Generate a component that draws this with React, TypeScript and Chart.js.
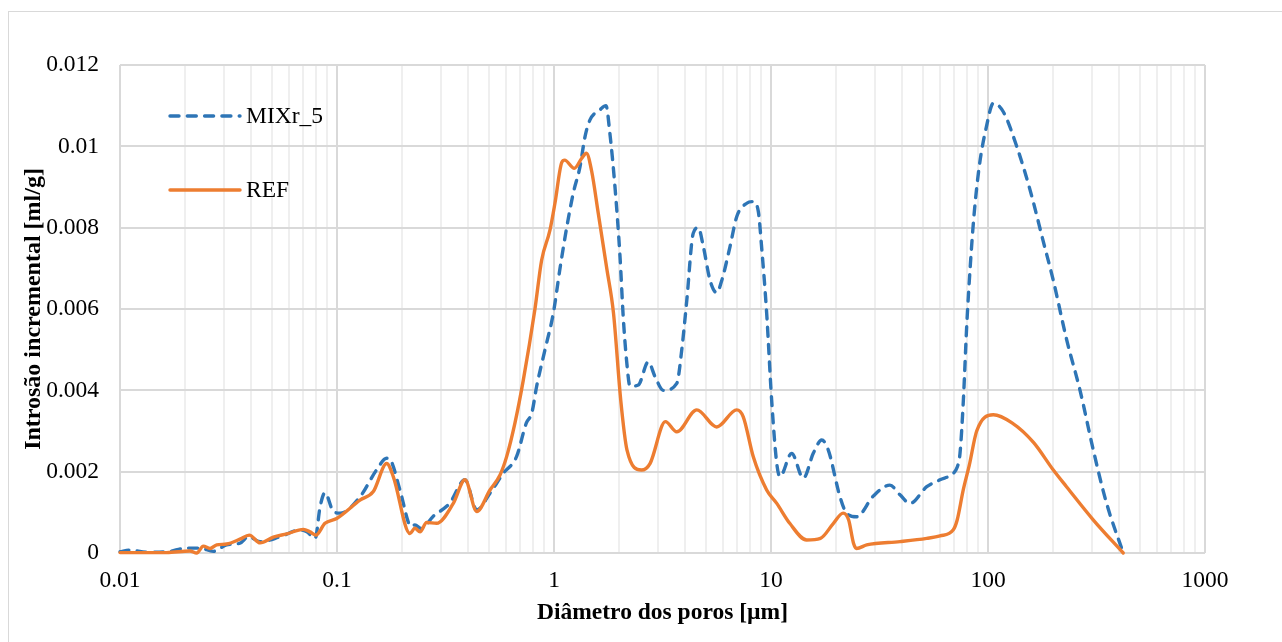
import React, { useEffect, useRef } from "react";
import { Chart, registerables } from "chart.js";

Chart.register(...registerables);

// MIXr_5 – incremental intrusion vs pore diameter
const mixDiameter = [
  0.01, 0.0111, 0.0133, 0.0164, 0.0203, 0.0234, 0.0269, 0.031, 0.0357, 0.039,
  0.0442, 0.0547, 0.0676, 0.0726, 0.0793, 0.0836, 0.088, 0.0963, 0.1034, 0.1276,
  0.152, 0.1694, 0.178, 0.195, 0.22, 0.2286, 0.2447, 0.2772, 0.3302, 0.389,
  0.4405, 0.507, 0.584, 0.672, 0.746, 0.79, 0.832, 0.909, 0.993, 1.066,
  1.144, 1.227, 1.318, 1.39, 1.465, 1.629, 1.736, 1.811, 1.91, 2.014,
  2.085, 2.163, 2.24, 2.446, 2.72, 2.92, 3.19, 3.68, 3.88, 4.09,
  4.38, 4.62, 4.88, 5.24, 5.62, 5.93, 6.47, 6.95, 7.73, 8.28,
  8.74, 9.06, 9.55, 10.07, 10.63, 11.0, 12.45, 14.09, 15.66, 17.13,
  18.37, 20.8, 22.3, 24.8, 29.6, 35.3, 39.3, 43.7, 52.2, 60.1,
  69.2, 72, 74.3, 76.9, 79.9, 83, 86.1, 91.1, 98.3, 105.8,
  117.6, 135.6, 156.2, 180, 200, 230.5, 265.5, 305.7, 352, 420,
];
const mixVolume = [
  0.00003, 0.00007, 0.00002, 0.00003, 0.00012, 0.00012, 0.00004, 0.0002, 0.00024, 0.0004,
  0.00028, 0.0004, 0.00057, 0.00052, 0.00036, 0.00114, 0.00148, 0.00102, 0.00098, 0.00138,
  0.00204, 0.00233, 0.00225, 0.00155, 0.00065, 0.00069, 0.0006, 0.0009, 0.00122, 0.0018,
  0.00106, 0.00147, 0.00196, 0.00237, 0.0032, 0.00344, 0.0041, 0.005, 0.0059, 0.007,
  0.008, 0.00885, 0.0095, 0.01024, 0.01065, 0.0109, 0.011, 0.0103, 0.009, 0.0073,
  0.0058, 0.0047, 0.0041, 0.00413, 0.0047, 0.00434, 0.004, 0.00417, 0.005, 0.0062,
  0.00786, 0.008, 0.00753, 0.0067, 0.0064, 0.0067, 0.00753, 0.00827, 0.0086, 0.00864,
  0.0084, 0.0075, 0.0059, 0.00376, 0.0022, 0.00188, 0.00245, 0.00184, 0.00245, 0.00278,
  0.00253, 0.00138, 0.00098, 0.00089, 0.0014, 0.00167, 0.00143, 0.00122, 0.00163, 0.0018,
  0.00196, 0.0021, 0.00245, 0.0037, 0.00565, 0.00712, 0.00827, 0.0095, 0.01048, 0.01106,
  0.01085, 0.01, 0.00893, 0.00765, 0.0067, 0.00524, 0.004, 0.00253, 0.00122, 0,
];

// REF – incremental intrusion vs pore diameter
const refDiameter = [
  0.01, 0.0164, 0.021, 0.02257, 0.0242, 0.026, 0.0279, 0.031, 0.0357, 0.0394,
  0.0442, 0.0509, 0.0586, 0.07, 0.0751, 0.08, 0.088, 0.0997, 0.1276, 0.147,
  0.1694, 0.1817, 0.2168, 0.2286, 0.2413, 0.2588, 0.2878, 0.3435, 0.389, 0.4405,
  0.507, 0.564, 0.605, 0.661, 0.722, 0.817, 0.877, 0.958, 1.01, 1.085,
  1.12, 1.24, 1.34, 1.41, 1.49, 1.6, 1.75, 1.88, 2.03, 2.17,
  2.53, 2.77, 3.26, 3.68, 4.55, 5.62, 6.95, 7.45, 8.28, 9.55,
  10.63, 12.2, 14.6, 16.9, 19.4, 21.5, 22.8, 24.0, 24.8, 27.6,
  39.3, 52.2, 60.1, 69.2, 72.1, 76.9, 82, 88.7, 105.8, 129,
  162, 200, 230, 306, 420,
];
const refVolume = [
  0.00001, 0.00001, 0.00005, 0.0, 0.00017, 0.00011, 0.0002, 0.00022, 0.00034, 0.00044,
  0.00025, 0.00039, 0.00047, 0.00058, 0.00052, 0.00044, 0.00073, 0.00085, 0.0013, 0.00151,
  0.0022, 0.00188, 0.00048, 0.00061, 0.00052, 0.00075, 0.00073, 0.00122, 0.0018, 0.00102,
  0.00155, 0.00192, 0.00237, 0.0032, 0.00425, 0.006, 0.0072, 0.00794, 0.0086, 0.0096,
  0.00966, 0.00946, 0.0097, 0.00983, 0.0094, 0.00835, 0.007, 0.0059, 0.00376, 0.00253,
  0.00204, 0.0022, 0.00323, 0.00298, 0.00352, 0.0031, 0.00352, 0.00335, 0.00237, 0.00155,
  0.00122, 0.00073, 0.00032, 0.00036, 0.00073, 0.00098, 0.00081, 0.00024, 0.00011, 0.0002,
  0.00028, 0.00036, 0.00042, 0.00057, 0.00081, 0.00155, 0.00216, 0.003, 0.0034, 0.0032,
  0.00272, 0.00204, 0.00163, 0.00081, 0,
];

const seriesLabels = ["MIXr_5", "REF"];
const seriesColors = ["#2E75B6", "#ED7D31"];
const xDecades = [0.01, 0.1, 1, 10, 100, 1000];
const xTickLabels = ["0.01", "0.1", "1", "10", "100", "1000"];
const yTickValues = [0, 0.002, 0.004, 0.006, 0.008, 0.01, 0.012];
const yTickLabels = ["0", "0.002", "0.004", "0.006", "0.008", "0.01", "0.012"];

const xTitle = "Diâmetro dos poros [µm]";
const yTitle = "Introsão incremental [ml/g]";

const FONT = "'Liberation Serif', 'Times New Roman', serif";
const FONT_SIZE = 23.5;
const MAJOR_GRID = "#d9d9d9";
const MINOR_GRID = "#efefef";

const isDecade = (v: number) => {
  const l = Math.log10(v);
  return Math.abs(l - Math.round(l)) < 1e-6;
};

// Legend drawn inside the plot area, near its top-left corner
const insideLegend = {
  id: "insideLegend",
  afterDatasetsDraw(chart: any) {
    const { ctx, chartArea } = chart;
    const entries = [
      { ds: chart.data.datasets[0], y: chartArea.top + 51 },
      { ds: chart.data.datasets[1], y: chartArea.top + 125 },
    ];
    ctx.save();
    for (const e of entries) {
      const x0 = chartArea.left + 50;
      const x1 = chartArea.left + 120;
      ctx.beginPath();
      ctx.strokeStyle = e.ds.borderColor;
      ctx.lineWidth = e.ds.borderWidth;
      ctx.lineCap = e.ds.borderCapStyle || "butt";
      ctx.setLineDash(e.ds.borderDash || []);
      ctx.moveTo(x0, e.y);
      ctx.lineTo(x1, e.y);
      ctx.stroke();
      ctx.setLineDash([]);
      ctx.fillStyle = "#000";
      ctx.font = `${FONT_SIZE}px ${FONT}`;
      ctx.textAlign = "left";
      ctx.textBaseline = "middle";
      ctx.fillText(e.ds.label, x1 + 6, e.y + 1);
    }
    ctx.restore();
  },
};

export default function App() {
  const canvasRef = useRef<HTMLCanvasElement | null>(null);

  useEffect(() => {
    if (!canvasRef.current) return;

    const mixPoints = mixDiameter.map((d, i) => ({ x: d, y: mixVolume[i] }));
    const refPoints = refDiameter.map((d, i) => ({ x: d, y: refVolume[i] }));

    const gridTicks: number[] = [];
    for (let i = 0; i < xDecades.length - 1; i++) {
      for (let k = 1; k <= 9; k++) gridTicks.push(+(xDecades[i] * k).toPrecision(6));
    }
    gridTicks.push(xDecades[xDecades.length - 1]);

    const chart = new Chart(canvasRef.current, {
      type: "line",
      data: {
        datasets: [
          {
            label: seriesLabels[0],
            data: mixPoints,
            borderColor: seriesColors[0],
            backgroundColor: seriesColors[0],
            borderWidth: 3.4,
            borderDash: [9, 8.3],
            borderCapStyle: "round",
            pointRadius: 0,
            cubicInterpolationMode: "monotone",
            fill: false,
            order: 1,
            clip: 6,
          },
          {
            label: seriesLabels[1],
            data: refPoints,
            borderColor: seriesColors[1],
            backgroundColor: seriesColors[1],
            borderWidth: 3.4,
            borderCapStyle: "round",
            borderJoinStyle: "round",
            pointRadius: 0,
            cubicInterpolationMode: "monotone",
            fill: false,
            order: 0,
            clip: 6,
          },
        ],
      },
      options: {
        animation: false,
        responsive: false,
        maintainAspectRatio: false,
        devicePixelRatio: 1,
        events: [],
        layout: { padding: { left: 0, top: 65, right: 77, bottom: 0 } },
        plugins: {
          legend: { display: false },
          tooltip: { enabled: false },
        },
        scales: {
          x: {
            type: "logarithmic",
            min: xDecades[0],
            max: xDecades[xDecades.length - 1],
            afterBuildTicks: (scale: any) => {
              scale.ticks = gridTicks.map((v) => ({ value: v, major: isDecade(v) }));
            },
            afterFit: (scale: any) => {
              scale.height = 89;
            },
            border: { display: false },
            grid: {
              drawTicks: false,
              lineWidth: 2,
              color: (c: any) => (c.tick && isDecade(c.tick.value) ? MAJOR_GRID : MINOR_GRID),
            },
            ticks: {
              autoSkip: false,
              maxRotation: 0,
              padding: 14,
              color: "#000",
              font: { family: FONT, size: FONT_SIZE },
              callback: (v: any) => {
                const idx = xDecades.findIndex((d) => Math.abs(d - Number(v)) / d < 1e-6);
                return idx >= 0 ? xTickLabels[idx] : "";
              },
            },
            title: {
              display: true,
              text: xTitle,
              color: "#000",
              padding: { top: 0, bottom: 15 },
              font: { family: FONT, size: FONT_SIZE, weight: "bold" },
            },
          },
          y: {
            type: "linear",
            min: yTickValues[0],
            max: yTickValues[yTickValues.length - 1],
            afterBuildTicks: (scale: any) => {
              scale.ticks = yTickValues.map((v) => ({ value: v }));
            },
            afterFit: (scale: any) => {
              scale.width = 120;
            },
            border: { display: false },
            grid: { drawTicks: false, lineWidth: 2, color: MAJOR_GRID },
            ticks: {
              padding: 21,
              color: "#000",
              font: { family: FONT, size: FONT_SIZE },
              callback: (v: any) => {
                const idx = yTickValues.findIndex((t) => Math.abs(t - Number(v)) < 1e-9);
                return idx >= 0 ? yTickLabels[idx] : "";
              },
            },
            title: {
              display: true,
              text: yTitle,
              color: "#000",
              padding: { top: 19, bottom: 0 },
              font: { family: FONT, size: 24, weight: "bold" },
            },
          },
        },
      },
      plugins: [insideLegend],
    } as any);

    return () => chart.destroy();
  }, []);

  return (
    <div
      style={{
        position: "fixed",
        left: 0,
        top: 0,
        width: 1282,
        height: 642,
        overflow: "hidden",
        background: "#fff",
      }}
    >
      <div
        style={{
          position: "absolute",
          left: 8,
          top: 11,
          width: 1290,
          height: 650,
          border: "1px solid #d9d9d9",
          boxSizing: "border-box",
        }}
      />
      <canvas
        ref={canvasRef}
        width={1282}
        height={642}
        style={{ position: "absolute", left: 0, top: 0, width: 1282, height: 642 }}
      />
    </div>
  );
}
